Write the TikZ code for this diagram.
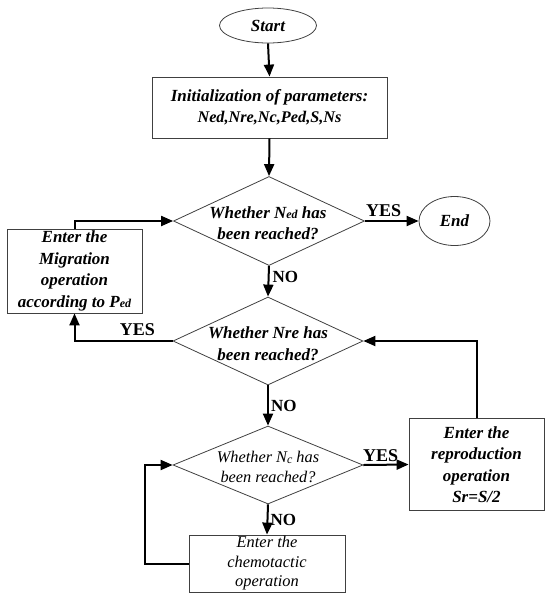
\documentclass[tikz,border=0pt]{standalone}
\usepackage{fontspec}
\setmainfont{Liberation Serif}
\usetikzlibrary{shapes.geometric,arrows.meta}
\newcommand{\sbs}[1]{\raisebox{-0.6pt}{\fontsize{12}{12}\selectfont #1}}
\begin{document}
\begin{tikzpicture}[x=1pt,y=-1pt,
  box/.style={draw=black!75, line width=0.8pt, rectangle, inner sep=0pt, align=center},
  term/.style={draw=black!75, line width=0.8pt, ellipse, inner sep=0pt},
  dia/.style={draw=black!75, line width=0.8pt, diamond, inner sep=0pt},
  bi/.style={font=\fontsize{17}{21.5}\selectfont\bfseries\itshape, align=center},
  it/.style={font=\fontsize{16.3}{20}\selectfont\itshape, align=center},
  flow/.style={line width=2pt, -{Triangle[length=12pt,width=10pt]}},
  lbl/.style={font=\fontsize{18}{18}\selectfont\bfseries, inner sep=0pt},
  nolbl/.style={font=\fontsize{17}{17}\selectfont\bfseries, inner sep=0pt}
]
\useasboundingbox (0,0) rectangle (550,598);

\node[term, minimum width=97pt, minimum height=35pt, bi] (start) at (268,25.5) {Start};
\node[box, minimum width=235pt, minimum height=61pt, bi] (init) at (269.5,107.5)
  {Initialization of parameters:\\{\fontsize{16.25}{16.25}\selectfont Ned,Nre,Nc,Ped,S,Ns}};

\node[dia, minimum width=191pt, minimum height=89pt] (d1) at (269,221) {};
\node[bi] (t1) at (268,223) {Whether N\sbs{ed} has\\been reached?};
\node[term, minimum width=71pt, minimum height=49pt, bi] (end) at (454.5,221) {End};

\node[box, minimum width=135pt, minimum height=84pt, bi] (mig) at (74.5,271)
  {Enter the\\Migration\\operation\\according to P\sbs{ed}};

\node[dia, minimum width=190pt, minimum height=88pt] (d2) at (268,341) {};
\node[bi] (t2) at (268,343.5) {Whether Nre has\\been reached?};

\node[dia, minimum width=190pt, minimum height=78pt] (d3) at (268,465) {};
\node[it] (t3) at (268,467) {Whether N\sbs{c} has\\been reached?};

\node[box, minimum width=135pt, minimum height=92pt, bi] (rep) at (476.5,464.5)
  {Enter the\\reproduction\\operation\\Sr=S/2};

\node[box, minimum width=156pt, minimum height=57pt, it, font=\fontsize{16.4}{19.5}\selectfont\itshape] (chem) at (267,563.5)
  {Enter the\\chemotactic\\operation};

\coordinate (c1) at (145,563.5);

\draw[flow] (start.south) -- (init.north);
\draw[flow] (init.south) -- (d1.north);
\draw[flow] (d1.east) -- node[lbl, pos=0.35, above=3pt] {YES} (end.west);
\draw[flow] (d1.south) -- node[nolbl, pos=0.35, right=3pt] {NO} (d2.north);
\draw[flow] (d2.west) -| node[lbl, pos=0.18, above=4pt] {YES} (mig.south);
\draw[flow] (mig.north) |- (d1.west);
\draw[flow] (rep.north) |- (d2.east);
\draw[flow] (d2.south) -- node[nolbl, right=2pt] {NO} (d3.north);
\draw[flow] (d3.east) -- node[lbl, pos=0.38, above=2pt] {YES} (rep.west);
\draw[flow] (d3.south) -- node[nolbl, right=2pt] {NO} (chem.north);
\draw[flow] (chem.west) -- (c1) |- (d3.west);
\end{tikzpicture}
\end{document}
